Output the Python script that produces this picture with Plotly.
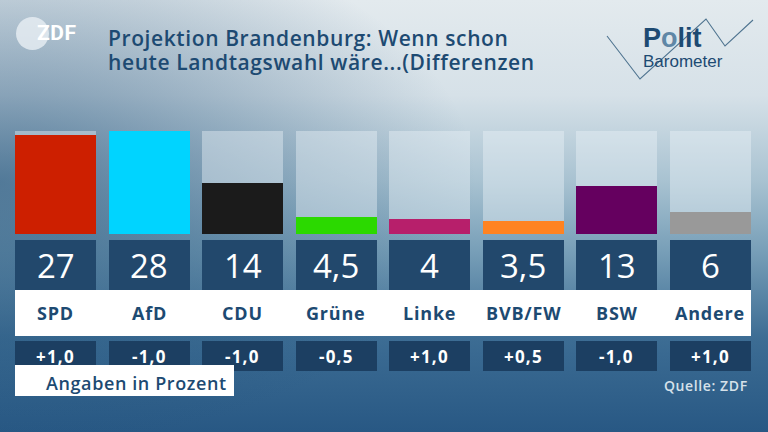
import base64
import plotly.graph_objects as go

# ---------------- data ----------------
parties = ["SPD", "AfD", "CDU", "Grüne", "Linke", "BVB/FW", "BSW", "Andere"]
values = [27, 28, 14, 4.5, 4, 3.5, 13, 6]
diffs = ["+1,0", "-1,0", "-1,0", "-0,5", "+1,0", "+0,5", "-1,0", "+1,0"]
colors = ["#cd1f00", "#00d4ff", "#1b1b1b", "#2bd900", "#b71f6b", "#ff8321", "#65005f", "#999999"]
title_lines = ["Projektion Brandenburg: Wenn schon", "heute Landtagswahl wäre...(Differenzen"]
unit_note = "Angaben in Prozent"
source_note = "Quelle: ZDF"
scale_max = 28

# ---------------- layout helpers (pixels) ----------------
W, H = 768, 432
PITCH = 93.57
FIRST_CENTER = 55.5
BAR_W = 81.0
Y0_PX = 234.0      # pixel row of value 0
TOP_PX = 131.0     # pixel row of scale max
K = (Y0_PX - TOP_PX) / scale_max


def dy(py):
    return (Y0_PX - py) / K


def px(x):
    return x / W


def py(y):
    return 1 - y / H


def sp(text, ls):
    return f"<span style='letter-spacing:{ls}px'>{text}</span>"


n = len(parties)
xs = list(range(n))
xr = [-FIRST_CENTER / PITCH, (W - FIRST_CENTER) / PITCH]
yr = [dy(H), dy(0)]
bw = BAR_W / PITCH

fmt = [(str(v).replace(".", ",") if v % 1 else str(int(v))) for v in values]

# ---------------- background ----------------
svg = f"""<svg xmlns='http://www.w3.org/2000/svg' width='{W}' height='{H}' viewBox='0 0 {W} {H}' preserveAspectRatio='none'>
<defs>
<linearGradient id='v' x1='0' y1='0' x2='0' y2='1'>
<stop offset='0' stop-color='#e3eaee'/>
<stop offset='0.22' stop-color='#d6e1e8'/>
<stop offset='0.42' stop-color='#a8c2d1'/>
<stop offset='0.58' stop-color='#789fb8'/>
<stop offset='0.78' stop-color='#3d6d94'/>
<stop offset='1' stop-color='#285884'/>
</linearGradient>
<radialGradient id='r' cx='0' cy='0.42' r='0.62'>
<stop offset='0' stop-color='#1d4d76' stop-opacity='0.62'/>
<stop offset='1' stop-color='#1d4d76' stop-opacity='0'/>
</radialGradient>
</defs>
<rect width='{W}' height='{H}' fill='url(#v)'/>
<rect width='{W}' height='{H}' fill='url(#r)'/>
</svg>"""
bg_uri = "data:image/svg+xml;base64," + base64.b64encode(svg.encode()).decode()

fig = go.Figure()

# track bars
fig.add_trace(go.Bar(x=xs, y=[scale_max] * n, width=bw,
                     marker=dict(color="rgba(236,243,247,0.42)", line=dict(width=0)),
                     hoverinfo="skip", showlegend=False))
# value bars
fig.add_trace(go.Bar(x=xs, y=values, width=bw,
                     marker=dict(color=colors, line=dict(width=0)),
                     hovertext=parties, showlegend=False))
# value boxes
vb_top, vb_bot = dy(240), dy(290)
fig.add_trace(go.Bar(x=xs, y=[vb_top - vb_bot] * n, base=[vb_bot] * n, width=bw,
                     marker=dict(color="#22486c", line=dict(width=0)),
                     hoverinfo="skip", showlegend=False))
# diff boxes
db_top, db_bot = dy(341), dy(371)
fig.add_trace(go.Bar(x=xs, y=[db_top - db_bot] * n, base=[db_bot] * n, width=bw,
                     marker=dict(color="#1c3f62", line=dict(width=0)),
                     hoverinfo="skip", showlegend=False))

shapes = [
    # white label strip
    dict(type="rect", xref="paper", yref="paper", x0=px(15), x1=px(751), y0=py(336), y1=py(290),
         fillcolor="white", line=dict(width=0), layer="above"),
    # unit note box
    dict(type="rect", xref="paper", yref="paper", x0=px(15), x1=px(234), y0=py(396), y1=py(365),
         fillcolor="white", line=dict(width=0), layer="above"),
    # ZDF circle
    dict(type="circle", xref="paper", yref="paper", x0=px(16), x1=px(49), y0=py(50), y1=py(17),
         fillcolor="rgba(232,239,244,0.8)", line=dict(width=0), layer="above"),
    # Politbarometer zigzag
    dict(type="path", xref="paper", yref="paper",
         path=f"M {px(607)},{py(36)} L {px(640)},{py(79)} L {px(706)},{py(19)} L {px(725)},{py(46)} L {px(753)},{py(20)}",
         line=dict(color="#4f7490", width=1.1), layer="above"),
]

TXT = "#1d4a72"
FONT = "Open Sans"
ann = []
for i in xs:
    ann.append(dict(x=i, y=dy(265), xref="x", yref="y", yanchor="middle", text=fmt[i], showarrow=False,
                    font=dict(family=FONT, size=33, color="white")))
    ann.append(dict(x=i, y=dy(313), xref="x", yref="y", yanchor="middle", text=sp(parties[i], 0.8),
                    showarrow=False, font=dict(family=FONT, size=18, color=TXT, weight=700)))
    ann.append(dict(x=i, y=dy(356), xref="x", yref="y", yanchor="middle", text=sp(diffs[i], 1.2),
                    showarrow=False, font=dict(family=FONT, size=17, color="white", weight=700)))

for j, line in enumerate(title_lines):
    ann.append(dict(x=px(106), y=py(38 + 24 * j), xref="paper", yref="paper", xanchor="left",
                    yanchor="middle", text=sp(line, 0.6), showarrow=False,
                    font=dict(family=FONT, size=21, color=TXT, weight=600)))

ann.append(dict(x=px(44), y=py(383), xref="paper", yref="paper", xanchor="left", yanchor="middle",
                text=sp(unit_note, 0.6), showarrow=False,
                font=dict(family=FONT, size=18, color=TXT, weight=600)))
ann.append(dict(x=px(750), y=py(385), xref="paper", yref="paper", xanchor="right", yanchor="middle",
                text=sp(source_note, 0.6), showarrow=False,
                font=dict(family=FONT, size=14, color="#d6e1ea", weight=600)))
# ZDF logo text
ann.append(dict(x=px(35), y=py(33), xref="paper", yref="paper", xanchor="left", yanchor="middle",
                text=sp("ZDF", 0.5), showarrow=False,
                font=dict(family="Roboto", size=21, color="white", weight=700)))
# Politbarometer logo text
ann.append(dict(x=px(641), y=py(38), xref="paper", yref="paper", xanchor="left", yanchor="middle",
                text="P<span style='color:#5f87a6'>o</span>lit", showarrow=False,
                font=dict(family="Liberation Sans", size=27, color=TXT, weight=700)))
ann.append(dict(x=px(641), y=py(62), xref="paper", yref="paper", xanchor="left", yanchor="middle",
                text="Barometer", showarrow=False,
                font=dict(family="Liberation Sans", size=17, color=TXT)))

fig.update_layout(
    width=W, height=H, margin=dict(l=0, r=0, t=0, b=0),
    barmode="overlay", bargap=0,
    paper_bgcolor="#6f98b2", plot_bgcolor="rgba(0,0,0,0)",
    xaxis=dict(range=xr, visible=False, fixedrange=True),
    yaxis=dict(range=yr, visible=False, fixedrange=True),
    shapes=shapes, annotations=ann,
    images=[dict(source=bg_uri, xref="paper", yref="paper", x=0, y=1, sizex=1, sizey=1,
                 xanchor="left", yanchor="top", sizing="stretch", layer="below")],
    showlegend=False,
)

fig.write_html("out.html", config={"displayModeBar": False})
